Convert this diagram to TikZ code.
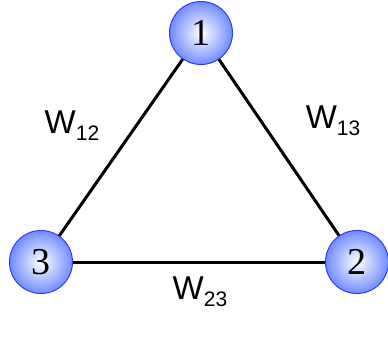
\documentclass[tikz,border=0pt]{standalone}
\usepackage{fontspec}
\setmainfont{Liberation Serif}
\newfontfamily\labelfont{Liberation Sans}
\usetikzlibrary{positioning}
\definecolor{vertexblue}{RGB}{112,140,255}
\definecolor{vertexedge}{RGB}{50,60,240}
\newcommand{\wsub}[1]{\raisebox{-7pt}{\fontsize{21}{21}\selectfont #1}}

\begin{document}
\begin{tikzpicture}[x=1pt,y=1pt,
    vertex/.style={circle, draw=vertexedge, line width=1pt, inner color=white,
        outer color=vertexblue, minimum size=63pt, inner sep=0pt,
        font=\fontsize{38}{38}\selectfont},
    weight/.style={font=\labelfont\fontsize{33}{33}\selectfont},
    edge/.style={line width=3pt, black}]
    \useasboundingbox (0,0) rectangle (388,338);

    % Vertices
    \node[vertex] (v1) at (201,305) {1};
    \node[vertex] (v2) at (357,76) {2};
    \node[vertex] (v3) at (41,76) {3};

    % Edges
    \draw[edge] (v1) -- (v3);
    \draw[edge] (v1) -- (v2);
    \draw[edge] (v3) -- (v2);

    % Weights
    \node[weight] (w12) at (72,212) {W\wsub{12}};
    \node[weight] (w13) at (333,217) {W\wsub{13}};
    \node[weight] (w23) at (200,46) {W\wsub{23}};
\end{tikzpicture}
\end{document}
